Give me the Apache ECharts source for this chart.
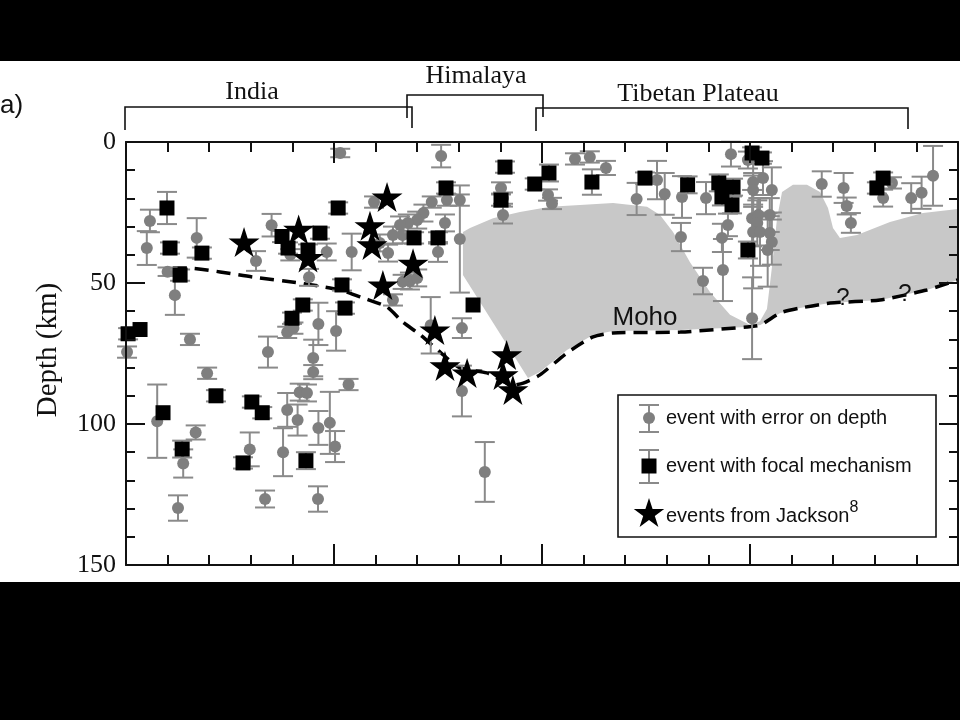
<!DOCTYPE html>
<html>
<head>
<meta charset="utf-8">
<script src="https://cdn.jsdelivr.net/npm/echarts@6/dist/echarts.min.js"></script>
<style>html,body{margin:0;padding:0;background:#000;}#c{width:960px;height:720px;}</style>
</head>
<body>
<div id="c"></div>
<script>
// ---- data (x: distance along profile, km; depth: km; err: +/- km) ----
const depthTicks = [0, 50, 100, 150];
const regionNames = ['India', 'Himalaya', 'Tibetan Plateau'];

// events with error on depth: [x, depth, err]
const errEvents = [
  [23,28,4],[20,37.6,6],[40,46,1.5],[47,54.3,7],[68,34,7],[61.5,70,2],[125,42.2,3.5],[140,29.5,4],
  [158,40,2],[193,39,3],[176,48,3],[217,39,6.5],[206,3.9,1.5],[185,64.5,7.5],[202,67,7],[155,67.5,2],
  [161,66,2],[1,74.5,2],[78,82,2],[30,99,13],[55,114,5],[67,103,2.5],[50,129.8,4.5],[119,109,6],
  [136.5,74.5,5.5],[180,76.6,6.5],[180,81.6,2.5],[214,86,2],[167,88.7,3],[174,89,3],[155,95,6],
  [165,98.6,5.5],[185,101.4,6],[196,99.6,11],[201,108,5.5],[151,110,8.5],[133.7,126.6,3],[184.6,126.6,4.5],
  [323,88.3,9],[323,66,3.5],[293,65,10],[345,117,10.6],[303,5,4],[238.5,21.3,2],[294,21.3,2],[286,25.2,3],
  [280,27.7,3],[271,28.7,3],[263.5,29.4,3],[308.6,20.6,2],[321,20.6,2],[321,34.4,19],[306.7,28.7,3],
  [256.7,33,3],[244,35.8,3],[252,39.4,3],[266,33,3],[300,39,3.5],[273,49.3,3],[280,48.2,3],[266,49.6,2.5],
  [256.7,56,2],[362.5,19.9,2],[360.6,16.3,2],[362.5,25.9,3],[405.8,18.8,2],[409.6,21.8,2],
  [431.7,6,2],[446,5.3,2],[461.5,9.2,2.5],[491,20.2,5.7],[510.6,13.5,6.8],[518,18.4,7.4],[534.6,19.5,7.4],
  [533.6,33.7,5],[557.7,19.9,5.7],[554.8,49.3,4.7],[573,34,5],[574,45.4,11],[581.7,4.3,4.4],[578.8,29.4,4],
  [602,62.5,14.5],[598,6.4,3],[603,14.2,8],[603,17,6],[612.5,12.8,6],[621,17,8],[602,27,10],[608,25.9,6],
  [607,28.7,8],[603,31.9,20],[609.6,31.9,12],[619,25.9,6],[621,35.5,8],[617,38.3,13],[619,32.3,6],
  [669,14.9,4.5],[690,16.3,5.3],[693,22.7,3],[697,28.7,3.5],[728,19.9,3],[736.5,14.5,2],[755,19.9,5.3],
  [765,18,5.7],[776,12,10.6]
];

// events with focal mechanism: [x, depth, err]
const focalEvents = [
  [2,68,2],[13.5,66.5,0],[35.6,96,0],[54,108.9,3],[86.5,90,2],[121,92.2,2],[131,96,2],[112.5,113.8,2],
  [173,113,3],[159.6,62.5,2],[170,57.8,2],[210.6,58.9,2],[333.7,57.8,0],[39.4,23.4,5.7],[42.3,37.6,2],
  [52,47.2,2],[73,39.4,2],[150,33.5,2],[155.8,37.6,2],[186.5,32.3,2],[175,38.3,2],[204,23.4,2],[207.7,50.7,2],
  [364.4,8.9,2],[360.6,20.6,2],[307.7,16.3,2],[277,34,2],[300,34,2],[393,14.9,2],[406.7,11,3],[448,14.2,4.5],
  [499,12.8,2],[540,15.2,3],[570,14.5,3],[583.7,16,3],[573,19.5,3],[582.7,22.3,3],[602,3.9,2],[611.5,5.7,2],
  [598,38.3,3],[728,12.8,2],[722,16.3,2]
];

// events from Jackson: [x, depth]
const jacksonEvents = [
  [113.5,35.5],[166,31],[175,41],[251,19.5],[234.6,29.7],[236.5,36.5],[276,43],[247,50.7],
  [297,66.7],[306.7,79.4],[328,81.9],[366,75.5],[362.5,82.6],[372,87.9]
];

// Moho (dashed): [x, depth]
const moho = [
  [45,44.7],[58.7,44.7],[122,47.9],[167,50],[206,52.5],[228,55.3],[251,58.5],[266,63.8],[283,68.4],
  [302,74.5],[321,80.1],[347,81.9],[372,86.2],[382,85.5],[398,82.6],[424,74.8],[449,69.1],[468,67.7],
  [533,67.4],[597,65.6],[610,64.9],[629,60.6],[648,58.9],[677,57.1],[725,56],[770,52.5],[800,48.9]
];

// grey region outline: [x, depth]
const greyRegion = [
  [324,31.9],[330.8,30.5],[352.9,27],[378.8,24.8],[407.7,23],[436.5,22.3],[468.3,21.6],[501,23],
  [513.5,25.9],[526,31.9],[542.3,42.6],[561.5,53.2],[580.8,61.3],[600,64.9],[609.6,63.6],[616.3,59.2],
  [621,44.7],[626,27],[630.8,17.7],[641.3,15.2],[654.8,15.2],[667.3,17.7],[675,23.4],[679.8,30.5],
  [686.5,34],[702.9,33],[734.6,28.4],[766.3,25.2],[800,23.8],[800,48.9],[770,52.5],[725,56],[677,57.1],
  [648,58.9],[629,60.6],[610,64.9],[597,65.6],[533,66.7],[468,67],[449,68.4],[424,73.8],[398,81.6],
  [386.5,83.7],[324,47.2]
];

const starPath = 'path://M50 0 L61.2 34.5 L97.6 34.5 L68.2 55.9 L79.4 90.5 L50 69.1 L20.6 90.5 L31.8 55.9 L2.4 34.5 L38.8 34.5 Z';
const SERIF = 'Liberation Serif';
const SANS = 'Liberation Sans';
const BAR = '#8a8a8a';
const DOT = '#7f7f7f';

function errRender(params, api) {
  const x = api.value(0), y = api.value(1), e = api.value(2);
  if (!e) return null;
  const t = api.coord([x, y - e]), b = api.coord([x, y + e]);
  const hw = 10;
  const st = { stroke: BAR, lineWidth: 2 };
  return { type: 'group', children: [
    { type: 'line', shape: { x1: t[0], y1: t[1], x2: b[0], y2: b[1] }, style: st },
    { type: 'line', shape: { x1: t[0] - hw, y1: t[1], x2: t[0] + hw, y2: t[1] }, style: st },
    { type: 'line', shape: { x1: b[0] - hw, y1: b[1], x2: b[0] + hw, y2: b[1] }, style: st }
  ]};
}

function regionRender(params, api) {
  const pts = greyRegion.map(p => api.coord(p));
  return { type: 'polygon', shape: { points: pts }, style: { fill: '#c8c8c8', stroke: null } };
}

const chart = echarts.init(document.getElementById('c'), null, { renderer: 'canvas' });

function starPts(cx, cy, R) {
  const pts = [];
  for (let i = 0; i < 10; i++) {
    const r = i % 2 ? R * 0.382 : R;
    const a = -Math.PI / 2 + i * Math.PI / 5;
    pts.push([cx + r * Math.cos(a), cy + r * Math.sin(a)]);
  }
  return pts;
}

const axisCommon = {
  min: 0, max: 800, interval: 200, z: 10,
  axisLine: { show: true, onZero: false, lineStyle: { color: '#111', width: 2 } },
  axisTick: { show: true, inside: true, length: 21, lineStyle: { color: '#111', width: 2 } },
  minorTick: { show: true, splitNumber: 5, length: 10, lineStyle: { color: '#111', width: 2 } },
  axisLabel: { show: false }, splitLine: { show: false }, minorSplitLine: { show: false }
};
const yCommon = {
  type: 'value', inverse: true, min: 0, max: 150, interval: 50, z: 10,
  axisLine: { show: true, onZero: false, lineStyle: { color: '#111', width: 2 } },
  axisTick: { show: true, inside: true, length: 19, lineStyle: { color: '#111', width: 2 } },
  minorTick: { show: true, splitNumber: 5, length: 9, lineStyle: { color: '#111', width: 2 } },
  splitLine: { show: false }, minorSplitLine: { show: false }
};

const lineSt = { stroke: '#111', lineWidth: 1.6, fill: null };

chart.setOption({
  backgroundColor: '#000',
  animation: false,
  grid: { left: 126, right: 2, top: 142, bottom: 155 },
  xAxis: [
    Object.assign({ type: 'value', position: 'bottom' }, axisCommon),
    Object.assign({ type: 'value', position: 'top' }, axisCommon)
  ],
  yAxis: [
    Object.assign({ position: 'left',
      axisLabel: { show: true, margin: 10, color: '#111', fontFamily: SERIF, fontSize: 26,
        formatter: v => depthTicks.indexOf(v) >= 0 ? String(v) : '' } }, yCommon),
    Object.assign({ position: 'right', axisLabel: { show: false } }, yCommon)
  ],
  series: [
    { type: 'custom', renderItem: regionRender, data: [0], silent: true, z: 1 },
    { type: 'line', data: moho, symbol: 'none', smooth: 0.2, z: 2,
      lineStyle: { color: '#000', width: 3.5, type: [14, 8] } },
    { type: 'custom', renderItem: errRender, data: errEvents, encode: { x: 0, y: 1 }, z: 3 },
    { type: 'scatter', data: errEvents.map(d => [d[0], d[1]]), symbol: 'circle', symbolSize: 12,
      itemStyle: { color: DOT, opacity: 1 }, z: 4 },
    { type: 'custom', renderItem: errRender, data: focalEvents, encode: { x: 0, y: 1 }, z: 5 },
    { type: 'scatter', data: focalEvents.map(d => [d[0], d[1]]), symbol: 'rect', symbolSize: 15,
      itemStyle: { color: '#000', opacity: 1 }, z: 6 },
    { type: 'scatter', data: jacksonEvents, symbol: starPath, symbolSize: [31, 30],
      itemStyle: { color: '#000', opacity: 1 }, z: 7 }
  ],
  graphic: [
    { type: 'rect', z: -100, silent: true, shape: { x: 0, y: 61, width: 960, height: 521 }, style: { fill: '#fff' } },
    { type: 'text', x: 0, y: 106, style: { text: 'a)', font: '26px ' + SANS, fill: '#111', textVerticalAlign: 'middle' } },
    { type: 'text', x: 48, y: 350, rotation: Math.PI / 2,
      style: { text: 'Depth (km)', font: '29px ' + SERIF, fill: '#111', textAlign: 'center', textVerticalAlign: 'middle' } },
    // region brackets
    { type: 'polyline', shape: { points: [[125, 130], [125, 107], [412, 107], [412, 128]] }, style: lineSt },
    { type: 'polyline', shape: { points: [[407, 118], [407, 95], [543, 95], [543, 117]] }, style: lineSt },
    { type: 'polyline', shape: { points: [[536, 131], [536, 108], [908, 108], [908, 129]] }, style: lineSt },
    { type: 'text', x: 252, y: 92, style: { text: regionNames[0], font: '26px ' + SERIF, fill: '#111', textAlign: 'center', textVerticalAlign: 'middle' } },
    { type: 'text', x: 476, y: 76, style: { text: regionNames[1], font: '26px ' + SERIF, fill: '#111', textAlign: 'center', textVerticalAlign: 'middle' } },
    { type: 'text', x: 698, y: 94, style: { text: regionNames[2], font: '26px ' + SERIF, fill: '#111', textAlign: 'center', textVerticalAlign: 'middle' } },
    // annotations
    { type: 'text', x: 645, y: 318, z: 20, style: { text: 'Moho', font: '26px ' + SANS, fill: '#111', textAlign: 'center', textVerticalAlign: 'middle' } },
    { type: 'text', x: 843, y: 298, z: 20, style: { text: '?', font: '24px ' + SANS, fill: '#111', textAlign: 'center', textVerticalAlign: 'middle' } },
    { type: 'text', x: 905, y: 294, z: 20, style: { text: '?', font: '24px ' + SANS, fill: '#111', textAlign: 'center', textVerticalAlign: 'middle' } },
    // legend
    { type: 'rect', z: 30, shape: { x: 618, y: 395, width: 318, height: 142 }, style: { fill: '#fff', stroke: '#111', lineWidth: 1.6 } },
    { type: 'line', z: 31, shape: { x1: 649, y1: 405, x2: 649, y2: 432 }, style: { stroke: BAR, lineWidth: 2 } },
    { type: 'line', z: 31, shape: { x1: 639, y1: 405, x2: 659, y2: 405 }, style: { stroke: BAR, lineWidth: 2 } },
    { type: 'line', z: 31, shape: { x1: 639, y1: 432, x2: 659, y2: 432 }, style: { stroke: BAR, lineWidth: 2 } },
    { type: 'circle', z: 32, shape: { cx: 649, cy: 418, r: 6 }, style: { fill: DOT } },
    { type: 'text', z: 32, x: 666, y: 418, style: { text: 'event with error on depth', font: '20px ' + SANS, fill: '#111', textVerticalAlign: 'middle' } },
    { type: 'line', z: 31, shape: { x1: 649, y1: 450, x2: 649, y2: 483 }, style: { stroke: BAR, lineWidth: 2 } },
    { type: 'line', z: 31, shape: { x1: 639, y1: 450, x2: 659, y2: 450 }, style: { stroke: BAR, lineWidth: 2 } },
    { type: 'line', z: 31, shape: { x1: 639, y1: 483, x2: 659, y2: 483 }, style: { stroke: BAR, lineWidth: 2 } },
    { type: 'rect', z: 32, shape: { x: 641.5, y: 458.5, width: 15, height: 15 }, style: { fill: '#000' } },
    { type: 'text', z: 32, x: 666, y: 466, style: { text: 'event with focal mechanism', font: '20px ' + SANS, fill: '#111', textVerticalAlign: 'middle' } },
    { type: 'polygon', z: 32, shape: { points: starPts(649, 514, 16) }, style: { fill: '#000' } },
    { type: 'text', z: 32, x: 666, y: 513, style: { text: '{t|events from Jackson}{s|8}', fill: '#111', textVerticalAlign: 'middle',
      rich: { t: { fontSize: 20, fontFamily: SANS, lineHeight: 26, verticalAlign: 'bottom' },
              s: { fontSize: 16, fontFamily: SANS, lineHeight: 26, verticalAlign: 'top' } } } }
  ]
});
</script>
</body>
</html>
